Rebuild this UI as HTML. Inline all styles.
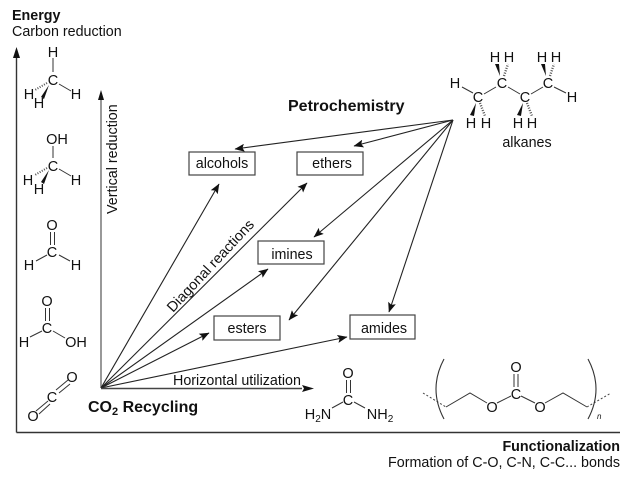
<!DOCTYPE html>
<html>
<head>
<meta charset="utf-8">
<style>
html,body{margin:0;padding:0;background:#fff;width:640px;height:485px;overflow:hidden}
svg{display:block;filter:blur(0.3px)}
text{font-family:"Liberation Sans",sans-serif;font-size:14.3px;fill:#111}
.b{font-weight:bold;font-size:14.3px}
.m{text-anchor:middle;font-size:14.5px}
.bond{stroke:#333;stroke-width:1;fill:none}
.ln{stroke:#222;stroke-width:1.1;fill:none}
.box{fill:#fff;stroke:#444;stroke-width:1.2}
.ah{fill:#111;stroke:none}
</style>
</head>
<body>
<svg width="640" height="485" viewBox="0 0 640 485" xmlns="http://www.w3.org/2000/svg">
<defs>
<marker id="a" viewBox="0 0 10 8" refX="9.5" refY="4" markerWidth="10" markerHeight="8" markerUnits="userSpaceOnUse" orient="auto"><path d="M0 0L10 4L0 8L2 4Z" fill="#111"/></marker>
</defs>

<!-- axes -->
<path d="M16.5 432.5V56M16.5 432.5H620" stroke="#333" stroke-width="1.4" fill="none"/>
<path d="M16.5 47L20 58L13 58Z" class="ah"/>
<path d="M101 388V100" stroke="#555" stroke-width="1.2" fill="none"/>
<path d="M101 90L104 100L98 100Z" class="ah"/>

<!-- CO2 arrows -->
<g class="ln">
<line x1="101" y1="388" x2="219" y2="184" marker-end="url(#a)"/>
<line x1="101" y1="388" x2="307" y2="183" marker-end="url(#a)"/>
<line x1="101" y1="388" x2="268" y2="269" marker-end="url(#a)"/>
<line x1="101" y1="388" x2="209" y2="333" marker-end="url(#a)"/>
<line x1="101" y1="388" x2="347" y2="337" marker-end="url(#a)"/>
</g>
<line x1="101" y1="388.5" x2="302" y2="388.5" stroke="#444" stroke-width="1.4"/>
<path d="M314 388.5L302 385L304 388.5L302 392Z" class="ah"/>

<!-- Petrochemistry arrows -->
<g class="ln">
<line x1="453" y1="120" x2="235" y2="149" marker-end="url(#a)"/>
<line x1="453" y1="120" x2="354" y2="146" marker-end="url(#a)"/>
<line x1="453" y1="120" x2="314" y2="237" marker-end="url(#a)"/>
<line x1="453" y1="120" x2="289" y2="320" marker-end="url(#a)"/>
<line x1="453" y1="120" x2="389" y2="312" marker-end="url(#a)"/>
</g>

<!-- boxes -->
<rect class="box" x="189" y="152" width="66" height="23"/>
<rect class="box" x="297" y="152" width="66" height="23"/>
<rect class="box" x="258" y="241" width="66" height="23"/>
<rect class="box" x="214" y="316" width="66" height="24"/>
<rect class="box" x="350" y="315" width="65" height="24"/>
<text x="222" y="168" text-anchor="middle">alcohols</text>
<text x="332" y="168" text-anchor="middle">ethers</text>
<text x="292" y="259" text-anchor="middle">imines</text>
<text x="247" y="333" text-anchor="middle">esters</text>
<text x="384" y="333" text-anchor="middle">amides</text>

<!-- labels -->
<text class="b" x="12" y="20">Energy</text>
<text x="12" y="36">Carbon reduction</text>
<text class="b" x="288" y="111" style="font-size:16px">Petrochemistry</text>
<text class="b" x="88" y="412" style="font-size:16px">CO<tspan dy="3" font-size="11">2</tspan><tspan dy="-3"> Recycling</tspan></text>
<text x="173" y="385">Horizontal utilization</text>
<text class="b" x="620" y="451" text-anchor="end">Functionalization</text>
<text x="620" y="467" text-anchor="end">Formation of C-O, C-N, C-C... bonds</text>
<text transform="translate(117,214) rotate(-90)">Vertical reduction</text>
<text transform="translate(173,313) rotate(-47)" style="font-size:14.5px">Diagonal reactions</text>
<text x="527" y="147" text-anchor="middle">alkanes</text>

<!-- methane -->
<g>
<path class="bond" d="M53 58V72M59 84L71 91"/>
<path d="M49 85L41 97L44 99Z" class="ah"/>
<path d="M47 83L35 90" stroke="#555" stroke-width="2" stroke-dasharray="1 1.5" fill="none"/>
<text class="m" x="53" y="57">H</text><text class="m" x="53" y="85">C</text>
<text class="m" x="76" y="99">H</text><text class="m" x="29" y="99">H</text><text class="m" x="39" y="108">H</text>
</g>
<!-- methanol -->
<g>
<path class="bond" d="M53 146V158M59 169L71 176"/>
<path d="M49 170L41 182L44 184Z" class="ah"/>
<path d="M47 168L35 175" stroke="#555" stroke-width="2" stroke-dasharray="1 1.5" fill="none"/>
<text class="m" x="57" y="144">OH</text><text class="m" x="53" y="171">C</text>
<text class="m" x="76" y="185">H</text><text class="m" x="28" y="185">H</text><text class="m" x="39" y="194">H</text>
</g>
<!-- formaldehyde -->
<g>
<path class="bond" d="M50.5 232V245M54.5 232V245M36 261L47 255M59 255L70 261"/>
<text class="m" x="52" y="230">O</text><text class="m" x="52" y="257">C</text>
<text class="m" x="29" y="270">H</text><text class="m" x="76" y="270">H</text>
</g>
<!-- formic acid -->
<g>
<path class="bond" d="M45.5 308V321M49.5 308V321M30 337L42 331M53 331L65 338"/>
<text class="m" x="47" y="306">O</text><text class="m" x="47" y="333">C</text>
<text class="m" x="24" y="347">H</text><text class="m" x="76" y="347">OH</text>
</g>
<!-- CO2 -->
<g>
<path class="bond" d="M56 390L68 380M59 393L70 384M36 411L48 401M39 414L50 404"/>
<text class="m" x="72" y="382">O</text><text class="m" x="52" y="402">C</text><text class="m" x="33" y="421">O</text>
</g>

<!-- alkane -->
<g>
<path class="bond" d="M462 87L473 93M484 94L496 87M508 87L520 94M531 94L543 87M554 87L566 93"/>
<path d="M476 103L470 115L474 116Z" class="ah"/>
<path d="M480 103L485 116" stroke="#555" stroke-width="2.4" stroke-dasharray="1 1.5" fill="none"/>
<path d="M523 103L517 115L521 116Z" class="ah"/>
<path d="M527 103L532 116" stroke="#555" stroke-width="2.4" stroke-dasharray="1 1.5" fill="none"/>
<path d="M500 76L495 64L499 64Z" class="ah"/>
<path d="M504 76L508 64" stroke="#555" stroke-width="2.4" stroke-dasharray="1 1.5" fill="none"/>
<path d="M546 76L541 64L545 64Z" class="ah"/>
<path d="M550 76L554 64" stroke="#555" stroke-width="2.4" stroke-dasharray="1 1.5" fill="none"/>
<text class="m" x="455" y="88">H</text><text class="m" x="478" y="102">C</text><text class="m" x="502" y="88">C</text><text class="m" x="525" y="102">C</text><text class="m" x="548" y="88">C</text><text class="m" x="572" y="102">H</text>
<text class="m" x="495" y="62">H</text><text class="m" x="509" y="62">H</text><text class="m" x="542" y="62">H</text><text class="m" x="556" y="62">H</text>
<text class="m" x="471" y="128">H</text><text class="m" x="486" y="128">H</text><text class="m" x="518" y="128">H</text><text class="m" x="532" y="128">H</text>
</g>

<!-- urea -->
<g>
<path class="bond" d="M346.5 380V393M350.5 380V393M332 408L343 402M354 402L365 408"/>
<text class="m" x="348" y="378">O</text><text class="m" x="348" y="405">C</text>
<text class="m" x="318" y="419">H<tspan dy="3" font-size="10">2</tspan><tspan dy="-3">N</tspan></text>
<text class="m" x="380" y="419">NH<tspan dy="3" font-size="10">2</tspan></text>
</g>

<!-- polycarbonate -->
<g>
<path class="bond" d="M446 407L470 393L487 403M497 403L511 396M521 396L535 403M545 403L563 393L587 407M514 374V387M518 374V387"/>
<path d="M423 393L446 407M587 407L611 393" stroke="#444" stroke-width="1" stroke-dasharray="2 2" fill="none"/>
<path d="M444 359Q428 389 444 419M588 359Q604 389 588 419" stroke="#333" stroke-width="1.1" fill="none"/>
<text class="m" x="516" y="372">O</text><text class="m" x="516" y="399">C</text>
<text class="m" x="492" y="412">O</text><text class="m" x="540" y="412">O</text>
<text x="597" y="419" style="font-size:8px;font-style:italic">n</text>
</g>
</svg>
</body>
</html>
